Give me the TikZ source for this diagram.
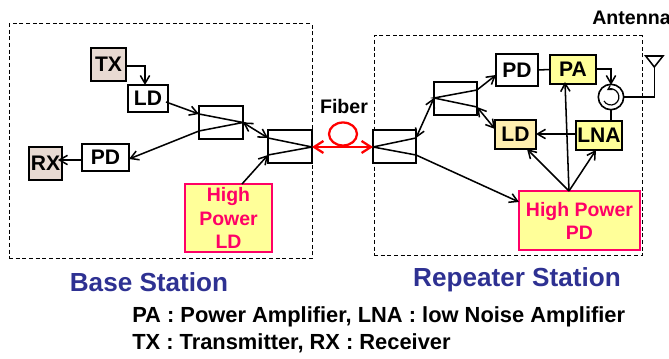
\documentclass[tikz,border=0pt]{standalone}
\usepackage{fontspec}
\setmainfont{Liberation Sans}
\usetikzlibrary{arrows.meta}
\definecolor{txfill}{HTML}{E8DAD2}
\definecolor{yel}{HTML}{FFFF99}
\definecolor{ldfill}{HTML}{FFEFB0}
\definecolor{pink}{HTML}{FF0066}
\definecolor{navy}{HTML}{2E3192}
\tikzset{
 x=0.75pt,y=-0.75pt,
 boxn/.style={draw=black,line width=1.5pt,inner sep=0,outer sep=0,font=\bfseries\fontsize{15.8}{17}\selectfont,align=center,anchor=north west},
 coup/.style={draw=black,line width=1.4pt,inner sep=0,outer sep=0,anchor=north west},
 hp/.style={draw=pink,fill=yel,line width=1.3pt,inner sep=0,outer sep=0,anchor=north west,text=pink,font=\bfseries\fontsize{14.6}{17.3}\selectfont,align=center},
 dashbox/.style={draw=black,line width=0.75pt,densely dashed,inner sep=0,outer sep=0,anchor=north west},
 arr/.style={line width=1.15pt,-{Straight Barb[length=6pt,width=7pt]}},
 darr/.style={line width=1.15pt,{Straight Barb[length=6pt,width=7pt]}-{Straight Barb[length=6pt,width=7pt]}},
 lin/.style={line width=1.15pt},
 rarr/.style={draw=red,line width=1.7pt,{Straight Barb[length=7pt,width=9pt]}-{Straight Barb[length=7pt,width=9pt]}},
 lab/.style={font=\bfseries\fontsize{14.7}{17}\selectfont,inner sep=0},
 title/.style={text=navy,font=\bfseries\fontsize{19.6}{22}\selectfont,inner sep=0},
 note/.style={font=\bfseries\fontsize{16.4}{19}\selectfont,inner sep=0,anchor=west}
}
\newcommand{\bx}[7]{\node[#1,minimum width=#5*0.75pt-#4*0.75pt,minimum height=#7*0.75pt-#6*0.75pt] (#2) at (#4,#6) {#3};}
\begin{document}
\begin{tikzpicture}
\useasboundingbox (0,0) rectangle (669,359);
\bx{dashbox}{bs}{}{9}{312}{24}{259}
\bx{dashbox}{rs}{}{374}{642}{36}{256}
% left
\bx{boxn,fill=txfill}{tx}{TX}{91}{126}{48}{81}
\bx{boxn,fill=white}{ldl}{LD}{128}{168}{85}{112}
\bx{coup,fill=white}{c1}{}{199}{243}{106}{139}
\bx{coup,fill=white}{c2}{}{268}{312}{130}{163}
\bx{boxn,fill=white}{pdl}{PD}{82}{129}{144}{171}
\bx{boxn,fill=txfill}{rx}{RX}{29}{62}{147}{180}
\bx{hp}{hpld}{High\\Power\\LD}{185}{272}{184}{252}
% right
\bx{boxn,fill=white}{pdr}{PD}{496}{538}{54}{86}
\bx{boxn,fill=yel}{pa}{PA}{550}{596}{55}{84}
\bx{boxn,fill=yel}{lna}{LNA}{576}{622}{121}{150}
\bx{boxn,fill=ldfill}{ldr}{LD}{495}{536}{120}{149}
\bx{coup,fill=white}{c3}{}{434}{477}{82}{115}
\bx{coup,fill=white}{c4}{}{373}{416}{130}{163}
\bx{hp}{hppd}{High Power\\PD}{519}{640}{191}{250}
% coupler internals
\coordinate (c1t) at (199,114); \coordinate (c1b) at (199,131); \coordinate (c1j) at (243,122.5);
\coordinate (c2t) at (268,138); \coordinate (c2b) at (268,155); \coordinate (c2j) at (312,147);
\coordinate (c3t) at (477,90); \coordinate (c3b) at (477,107); \coordinate (c3j) at (434,98);
\coordinate (c4t) at (416,138); \coordinate (c4b) at (416,155); \coordinate (c4j) at (373,147);
\draw[lin] (c1t)--(c1j)--(c1b);
\draw[lin] (c2t)--(c2j)--(c2b);
\draw[lin] (c3t)--(c3j)--(c3b);
\draw[lin] (c4t)--(c4j)--(c4b);
% left connectors
\coordinate (txo) at (126,66);
\draw[arr] (txo) -| (145,85);
\coordinate (ldo) at (166,102);
\draw[arr] (ldo) -- (c1t);
\draw[arr] (c1b) -- (129,159);
\draw[arr] (82,160) -- (58,160);
\draw[darr] (c1j) -- (c2t);
\coordinate (hplo) at (242,184);
\draw[arr] (hplo) -- (c2b);
% fibre
\draw[red,line width=1.7pt] (343,134) ellipse [x radius=14,y radius=11.5];
\draw[rarr] (c2j) -- (c4j);
\node[lab] (fib) at (344,106) {Fiber};
% right connectors
\draw[darr] (c4t) -- (c3j);
\draw[arr] (c3t) -- (496,75);
\draw[darr] (c3b) -- (495,129);
\draw[arr] (c4b) -- (519,202);
\draw[lin] (pdr.east) -- (pa.west);
\draw[arr] (576,134) -- (536,134);
\coordinate (hpa) at (569,191);
\draw[arr] (hpa) -- (527,149);
\draw[arr] (hpa) -- (565,82);
\draw[arr] (hpa) -- (596,150);
% circulator
\coordinate (circ) at (611,97);
\draw[arr] (596,69) -| (611,85);
\draw[lin] (611,109.7) -- (611,121);
\draw[black,line width=1.2pt,fill=white] (circ) circle (12.7);
\draw[line width=0.9pt,-{Straight Barb[length=3pt,width=3.5pt]}] (604,101) arc (150:-120:8);
% antenna
\draw[lin] (623.7,97) -| (654.3,67);
\draw[lin] (645.7,56) -- (663,56) -- (654.3,67) -- cycle;
\node[lab,anchor=west] (ant) at (592,18) {Antenna};
% titles
\node[title] (t1) at (149,282) {Base Station};
\node[title] (t2) at (517,280) {Repeater Station};
\node[note] (n1) at (132,317) {PA : Power Amplifier, LNA : low Noise Amplifier};
\node[note] (n2) at (132,343) {TX : Transmitter, RX : Receiver};
\end{tikzpicture}
\end{document}
